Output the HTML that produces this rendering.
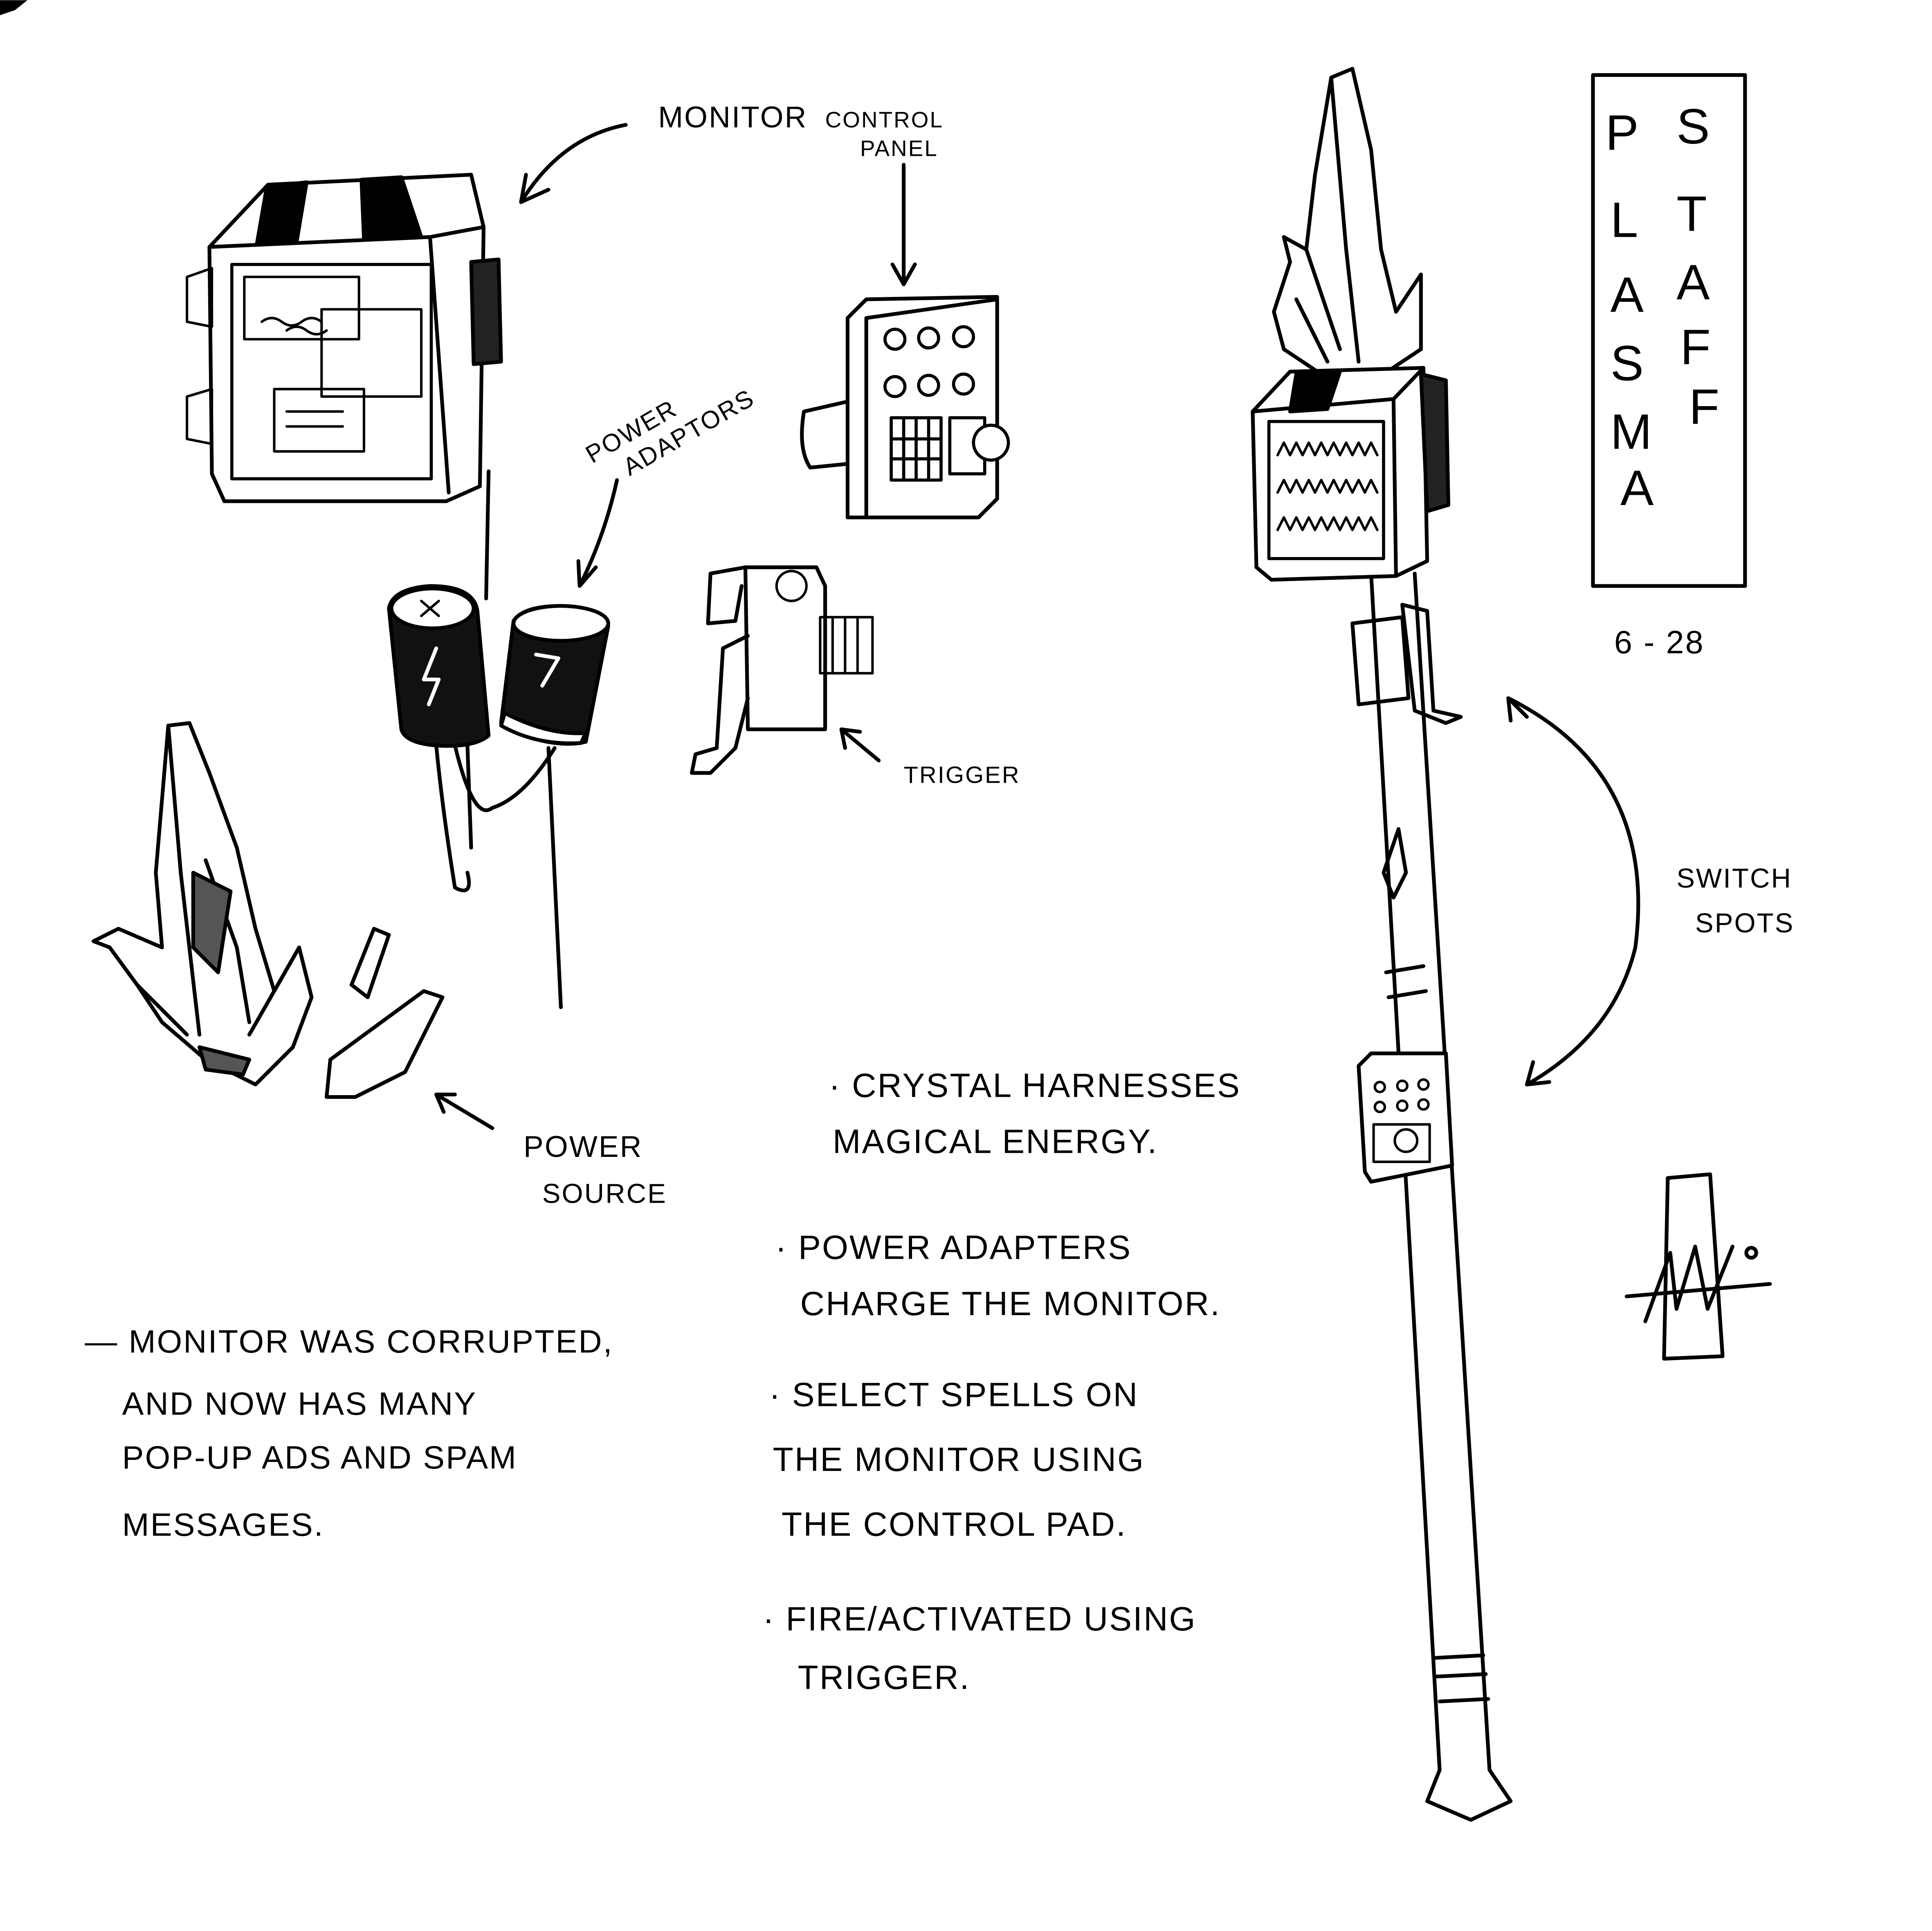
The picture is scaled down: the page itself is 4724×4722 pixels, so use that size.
<!DOCTYPE html>
<html><head><meta charset="utf-8"><style>
html,body{margin:0;padding:0;background:#fff}
svg{display:block}
text{font-family:"Liberation Sans",sans-serif;fill:#000;letter-spacing:1px}
</style></head><body>
<svg width="4724" height="4722" viewBox="0 0 1550 1549" xmlns="http://www.w3.org/2000/svg">
<rect width="1550" height="1549" fill="#fff"/>
<path d="M0 0 L22 0 L12 8 L0 12Z" fill="#000"/>
<g fill="none" stroke="#000" stroke-width="3" stroke-linecap="round" stroke-linejoin="round">
<path d="M168 198 L215 148 L378 140 L388 182 L385 390 L358 402 L180 402 L170 380Z"/>
<path d="M168 198 L345 190 L388 182 M345 190 L360 395"/>
<path d="M214 150 L206 196 L238 194 L246 146Z" fill="#000"/>
<path d="M290 144 L292 192 L338 190 L322 142Z" fill="#000"/>
<rect x="186" y="212" width="160" height="172" stroke-width="2.5"/>
<rect x="196" y="222" width="92" height="50" stroke-width="2"/>
<rect x="258" y="248" width="80" height="70" stroke-width="2"/>
<rect x="220" y="312" width="72" height="50" stroke-width="2"/>
<path d="M210 258 q8 -6 16 0 t16 0 t16 0 M230 265 q8 -6 16 0 t16 0" stroke-width="2"/>
<path d="M150 222 L170 215 L170 262 L150 258Z M150 318 L170 312 L170 356 L150 352Z" stroke-width="2"/>
<path d="M378 210 L400 208 L402 290 L380 292Z" fill="#222"/>
<path d="M230 330 h45 M230 342 h45" stroke-width="2"/>
<path d="M502 100 Q450 110 418 162 M418 162 L422 140 M418 162 L440 152"/>
<path d="M725 132 L725 228 M716 212 L725 228 L734 212"/>
<path d="M680 255 L695 240 L800 238 L800 400 L785 415 L680 415Z"/>
<path d="M695 255 L800 240 M695 255 L695 415"/>
<path d="M680 322 L645 330 Q640 360 650 375 L680 372" />
<g stroke-width="2.5">
<circle cx="718" cy="272" r="8"/><circle cx="745" cy="271" r="8"/><circle cx="773" cy="270" r="8"/>
<circle cx="718" cy="310" r="8"/><circle cx="745" cy="309" r="8"/><circle cx="773" cy="308" r="8"/>
<rect x="715" y="335" width="40" height="50"/>
<path d="M725 335v50 M735 335v50 M745 335v50 M715 352h40 M715 368h40"/>
<rect x="762" y="335" width="28" height="45"/>
<circle cx="795" cy="355" r="14" fill="#fff"/>
</g>
<path d="M495 385 Q485 430 465 470 M465 470 L464 450 M465 470 L478 455"/>
<path d="M312 488 Q315 472 345 470 Q380 470 383 490 L392 590 Q380 600 350 598 Q325 596 322 585Z" fill="#111"/>
<ellipse cx="347" cy="488" rx="33" ry="16" fill="#fff"/>
<path d="M350 520 L340 545 L352 545 L344 565" stroke="#fff"/>
<path d="M338 482 l14 12 M352 482 l-14 12" stroke-width="2"/>
<path d="M412 498 Q420 486 450 486 Q485 490 488 502 L470 595 Q450 600 420 590 L402 580Z" fill="#111"/>
<ellipse cx="450" cy="500" rx="38" ry="14" fill="#fff"/>
<path d="M405 572 Q440 590 470 588 L466 596 Q430 598 402 582Z" fill="#fff"/>
<path d="M430 525 L448 528 L435 550" stroke="#fff"/>
<path d="M392 378 L390 480"/>
<path d="M350 598 Q355 650 365 712 Q380 720 375 700 M365 598 Q380 660 395 648 Q420 640 445 600 M440 600 L450 808 M375 598 L378 680"/>
<path d="M598 455 L655 455 L662 470 L662 585 L600 585Z"/>
<path d="M598 455 L570 460 L568 500 L590 498 L595 470"/>
<path d="M600 510 L580 520 L575 600 L558 605 L555 620 L570 620 L590 600 L600 560"/>
<rect x="658" y="495" width="42" height="45" stroke-width="2"/>
<path d="M668 495v45 M678 495v45 M688 495v45" stroke-width="2"/>
<circle cx="635" cy="470" r="12" stroke-width="2"/>
<path d="M705 610 L675 585 M675 585 L690 587 M675 585 L678 600"/>
<path d="M135 582 L152 580 L168 620 L190 680 L205 745 L220 795 L240 760 L250 800 L235 840 L205 870 L165 850 L130 820 L110 790 L88 760 L75 755 L95 745 L130 760 L125 700Z"/>
<path d="M135 582 L145 700 L160 830 M165 690 L190 760 L200 820 M110 790 L150 830 M240 760 L200 830"/>
<path d="M155 700 L185 715 L175 780 L155 760Z" fill="#555"/>
<path d="M160 840 L200 850 L195 862 L165 858Z" fill="#555"/>
<path d="M282 790 L300 745 L312 750 L295 800Z"/>
<path d="M265 850 L340 795 L355 800 L325 860 L285 880 L262 880Z"/>
<path d="M395 905 L350 878 M350 878 L365 878 M350 878 L356 892"/>
<path d="M1100 460 L1155 1420 L1145 1445 L1180 1460 L1212 1445 L1195 1420 L1135 460" fill="#fff"/>
<path d="M1152 1330 L1190 1328 M1153 1345 L1192 1343 M1155 1365 L1194 1363"/>
<path d="M1085 500 L1125 495 L1130 560 L1090 565Z"/>
<path d="M1110 700 L1122 665 L1128 700 L1118 720Z"/>
<path d="M1112 780 L1142 775 M1114 800 L1144 795"/>
<path d="M1068 62 L1085 55 L1100 120 L1108 200 L1120 250 L1140 220 L1140 280 L1110 300 L1060 300 L1030 280 L1022 250 L1035 210 L1030 190 L1048 200 L1055 140Z" fill="#fff"/>
<path d="M1068 62 L1080 200 L1090 290 M1048 200 L1075 280 M1040 240 L1065 290"/>
<path d="M1005 330 L1035 298 L1142 295 L1145 450 L1120 462 L1020 465 L1008 455Z" fill="#fff"/>
<path d="M1005 330 L1118 320 L1142 295 M1118 320 L1120 462"/>
<path d="M1040 300 L1035 330 L1065 328 L1075 298Z" fill="#000"/>
<rect x="1018" y="338" width="92" height="110" stroke-width="2.5"/>
<path d="M1025 365 l5-10 l5 10 l5-10 l5 10 l5-10 l5 10 l5-10 l5 10 l5-10 l5 10 l5-10 l5 10 l5-10 l5 10 l5-10 l5 10 M1025 395 l5-10 l5 10 l5-10 l5 10 l5-10 l5 10 l5-10 l5 10 l5-10 l5 10 l5-10 l5 10 l5-10 l5 10 l5-10 l5 10 M1025 425 l5-10 l5 10 l5-10 l5 10 l5-10 l5 10 l5-10 l5 10 l5-10 l5 10 l5-10 l5 10 l5-10 l5 10 l5-10 l5 10" stroke-width="2"/>
<path d="M1140 300 L1160 305 L1162 405 L1145 410Z" fill="#222"/>
<path d="M1125 485 L1145 490 L1150 570 L1172 575 L1160 580 L1135 570Z"/>
<path d="M1090 855 L1100 845 L1160 845 L1165 935 L1100 948 L1095 940Z" fill="#fff"/>
<g stroke-width="2"><circle cx="1107" cy="872" r="4"/><circle cx="1125" cy="871" r="4"/><circle cx="1142" cy="870" r="4"/>
<circle cx="1107" cy="888" r="4"/><circle cx="1125" cy="887" r="4"/><circle cx="1142" cy="886" r="4"/>
<rect x="1102" y="902" width="45" height="30"/><circle cx="1128" cy="915" r="9"/></g>
<rect x="1278" y="60" width="122" height="410"/>
<path d="M1210 560 Q1330 620 1312 760 Q1295 830 1225 870 M1210 560 L1225 575 M1210 560 L1212 578 M1225 870 L1230 852 M1225 870 L1243 868"/>
<path d="M1338 945 L1372 942 L1382 1088 L1335 1090Z"/>
<path d="M1305 1040 L1420 1030 M1320 1060 L1340 1005 L1345 1050 L1360 1000 L1370 1050 L1390 1000"/>
<circle cx="1405" cy="1005" r="4"/>
</g>
<g font-size="24">
<text x="528" y="102">MONITOR</text>
<text x="662" y="102" font-size="18">CONTROL</text>
<text x="690" y="125" font-size="18">PANEL</text>
<text x="475" y="372" font-size="20" transform="rotate(-30 475 372)">POWER</text>
<text x="505" y="382" font-size="20" transform="rotate(-30 505 382)">ADAPTORS</text>
<text x="725" y="628" font-size="19">TRIGGER</text>
<text x="420" y="928">POWER</text>
<text x="435" y="965" font-size="22">SOURCE</text>
<text x="1345" y="712" font-size="22">SWITCH</text>
<text x="1360" y="748" font-size="22">SPOTS</text>
<text x="1295" y="524" font-size="26">6 - 28</text>
</g>
<g font-size="40">
<text x="1288" y="120">P</text><text x="1292" y="190">L</text><text x="1292" y="250">A</text>
<text x="1292" y="305">S</text><text x="1292" y="360">M</text><text x="1300" y="405">A</text>
<text x="1345" y="115">S</text><text x="1345" y="185">T</text><text x="1345" y="240">A</text>
<text x="1348" y="292">F</text><text x="1355" y="340">F</text>
</g>
<g font-size="27">
<text x="665" y="880">· CRYSTAL HARNESSES</text>
<text x="668" y="925">MAGICAL ENERGY.</text>
<text x="622" y="1010">· POWER ADAPTERS</text>
<text x="642" y="1055">CHARGE THE MONITOR.</text>
<text x="617" y="1128">· SELECT SPELLS ON</text>
<text x="620" y="1180">THE MONITOR USING</text>
<text x="627" y="1232">THE CONTROL PAD.</text>
<text x="612" y="1308">· FIRE/ACTIVATED USING</text>
<text x="640" y="1355">TRIGGER.</text>
<text x="68" y="1085" font-size="26">— MONITOR WAS CORRUPTED,</text>
<text x="98" y="1135" font-size="26">AND NOW HAS MANY</text>
<text x="98" y="1178" font-size="26">POP-UP ADS AND SPAM</text>
<text x="98" y="1232" font-size="26">MESSAGES.</text>
</g>
</svg>
</body></html>
